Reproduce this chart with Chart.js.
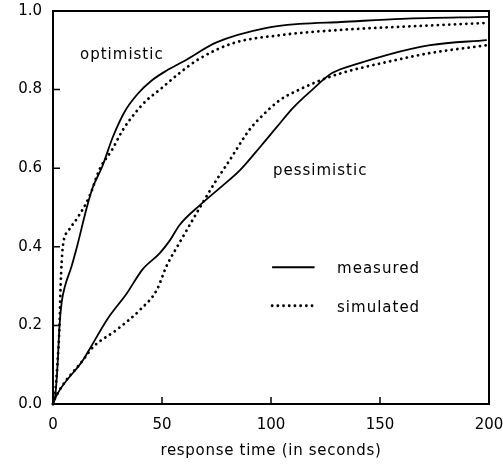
<!DOCTYPE html>
<html>
<head>
<meta charset="utf-8">
<script src="https://cdn.jsdelivr.net/npm/chart.js@4/dist/chart.umd.min.js"></script>
<style>
  html, body { margin: 0; padding: 0; background: #fff; }
  #wrap { width: 503px; height: 467px; }
</style>
</head>
<body>
<div id="wrap"><canvas id="myChart" width="503" height="467"></canvas></div>
<script>
// response time (s) and cumulative fraction
const optMeasuredT = [0, 1, 2, 3, 4, 5.5, 8.5, 11, 15.5, 18.3, 22.5, 27.5, 33, 39, 45, 52, 60, 75, 98, 113, 132, 160, 200];
const optMeasuredY = [0, 0.02, 0.09, 0.2, 0.26, 0.3, 0.35, 0.4, 0.5, 0.552, 0.603, 0.68, 0.745, 0.79, 0.822, 0.848, 0.872, 0.92, 0.957, 0.967, 0.972, 0.98, 0.985];

const optSimulatedT = [0, 1, 2, 3, 3.5, 4.5, 7, 11.5, 16.6, 21.6, 27, 32, 37.6, 43, 49, 58, 67, 82.6, 105, 132, 160, 200];
const optSimulatedY = [0, 0.03, 0.1, 0.2, 0.3, 0.4, 0.44, 0.476, 0.527, 0.6, 0.646, 0.697, 0.74, 0.773, 0.8, 0.842, 0.878, 0.918, 0.939, 0.952, 0.96, 0.97];

const pesMeasuredT = [0, 1, 13.8, 18.4, 24.7, 33.9, 41, 49, 53.7, 58, 67.4, 76.6, 85.8, 95, 102.7, 110, 119, 128, 141, 153, 173, 199];
const pesMeasuredY = [0, 0.015, 0.112, 0.155, 0.214, 0.282, 0.342, 0.384, 0.417, 0.455, 0.506, 0.55, 0.595, 0.654, 0.705, 0.753, 0.8, 0.842, 0.868, 0.888, 0.913, 0.926];

const pesSimulatedT = [0, 1, 13.8, 18.4, 29, 40, 47.6, 52, 58, 67.4, 75, 81, 90, 95, 104, 113, 125.7, 137.6, 153, 173, 199];
const pesSimulatedY = [0, 0.015, 0.112, 0.145, 0.188, 0.24, 0.29, 0.35, 0.41, 0.5, 0.57, 0.62, 0.697, 0.728, 0.773, 0.8, 0.83, 0.85, 0.87, 0.893, 0.913];

const xTicks = [0, 50, 100, 150, 200];
const yTicks = [0, 0.2, 0.4, 0.6, 0.8, 1.0];

const xTitle = 'response time (in seconds)';
const annotations = [
    { text: 'optimistic', x: 12.4, y: 0.878 },
    { text: 'pessimistic', x: 100.9, y: 0.583 }
];
const legendItems = [
    { text: 'measured', dotted: false, y: 0.348 },
    { text: 'simulated', dotted: true, y: 0.25 }
];

const FONT = '15px "DejaVu Sans"';
const solidStyle = { borderColor: '#000', borderWidth: 1.8, borderDash: [] };
const dottedStyle = { borderColor: '#000', borderWidth: 2.8, borderDash: [0.1, 5.6], borderCapStyle: 'round' };

function zip(ts, ys) {
    return ts.map((t, i) => ({ x: t, y: ys[i] }));
}

function series(ts, ys, style) {
    return Object.assign({
        data: zip(ts, ys),
        pointRadius: 0,
        fill: false,
        cubicInterpolationMode: 'monotone',
        clip: false
    }, style);
}

/** Ram, inåtriktade tickmarkeringar, texter och legend */
const decorations = {
    id: 'decorations',
    afterDraw(chart) {
        const { ctx, chartArea: a, scales } = chart;
        const xs = scales.x, ys = scales.y;
        ctx.save();
        ctx.strokeStyle = '#000';
        ctx.fillStyle = '#000';

        // frame
        ctx.lineWidth = 2;
        ctx.strokeRect(a.left, a.top, a.right - a.left, a.bottom - a.top);

        // inward ticks
        ctx.lineWidth = 1.5;
        ctx.beginPath();
        xTicks.forEach(v => {
            const px = xs.getPixelForValue(v);
            ctx.moveTo(px, a.bottom);
            ctx.lineTo(px, a.bottom - 7);
        });
        yTicks.forEach(v => {
            const py = ys.getPixelForValue(v);
            ctx.moveTo(a.left, py);
            ctx.lineTo(a.left + 7, py);
        });
        ctx.stroke();

        // annotations
        ctx.font = FONT;
        ctx.letterSpacing = '1px';
        ctx.textBaseline = 'alphabetic';
        ctx.textAlign = 'left';
        annotations.forEach(t => {
            ctx.fillText(t.text, xs.getPixelForValue(t.x), ys.getPixelForValue(t.y));
        });

        // legend
        legendItems.forEach(item => {
            const py = ys.getPixelForValue(item.y);
            const x0 = xs.getPixelForValue(100.5), x1 = xs.getPixelForValue(120);
            ctx.beginPath();
            if (item.dotted) {
                ctx.lineWidth = dottedStyle.borderWidth;
                ctx.setLineDash(dottedStyle.borderDash);
                ctx.lineCap = 'round';
            } else {
                ctx.lineWidth = solidStyle.borderWidth;
                ctx.setLineDash([]);
                ctx.lineCap = 'butt';
            }
            ctx.moveTo(x0, py);
            ctx.lineTo(x1, py);
            ctx.stroke();
            ctx.setLineDash([]);
            ctx.fillText(item.text, xs.getPixelForValue(130.3), py + 6);
        });

        // x axis title
        ctx.letterSpacing = '0.7px';
        ctx.textAlign = 'center';
        ctx.fillText(xTitle, (a.left + a.right) / 2, 455);
        ctx.restore();
    }
};

new Chart(document.getElementById('myChart'), {
    type: 'line',
    data: {
        datasets: [
            series(optMeasuredT, optMeasuredY, solidStyle),
            series(optSimulatedT, optSimulatedY, dottedStyle),
            series(pesMeasuredT, pesMeasuredY, solidStyle),
            series(pesSimulatedT, pesSimulatedY, dottedStyle)
        ]
    },
    options: {
        responsive: false,
        animation: false,
        events: [],
        layout: { padding: 0 },
        plugins: {
            legend: { display: false },
            tooltip: { enabled: false }
        },
        scales: {
            x: {
                type: 'linear',
                min: 0,
                max: 200,
                afterFit: scale => {
                    scale.height = 63;
                    scale.paddingLeft = 0;
                    scale.paddingRight = 14;
                },
                afterBuildTicks: scale => { scale.ticks = xTicks.map(v => ({ value: v })); },
                grid: { display: false, drawTicks: false },
                border: { display: false },
                ticks: {
                    color: '#000',
                    font: { family: 'DejaVu Sans', size: 15 },
                    padding: 12,
                    maxRotation: 0
                }
            },
            y: {
                type: 'linear',
                min: 0,
                max: 1,
                afterFit: scale => {
                    scale.width = 53;
                    scale.paddingTop = 11;
                    scale.paddingBottom = 0;
                },
                afterBuildTicks: scale => { scale.ticks = yTicks.map(v => ({ value: v })); },
                grid: { display: false, drawTicks: false },
                border: { display: false },
                ticks: {
                    color: '#000',
                    font: { family: 'DejaVu Sans', size: 15 },
                    padding: 11,
                    callback: v => v.toFixed(1)
                }
            }
        }
    },
    plugins: [decorations]
});
</script>
</body>
</html>
